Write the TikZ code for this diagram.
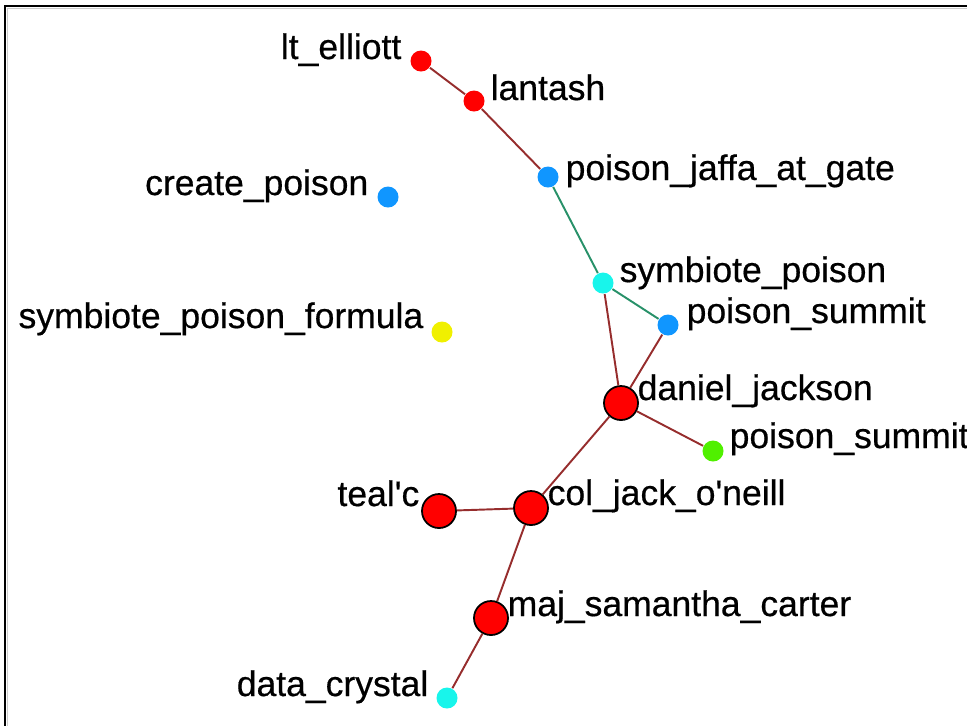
\documentclass[tikz,border=0pt]{standalone}
\usepackage{fontspec}
\setmainfont[FakeBold=0.5]{Liberation Sans}
\usetikzlibrary{positioning}
\definecolor{orared}{RGB}{255,0,0}
\definecolor{orablue}{RGB}{16,150,255}
\definecolor{oracyan}{RGB}{24,245,235}
\definecolor{orayellow}{RGB}{240,240,0}
\definecolor{oragreen}{RGB}{80,240,0}
\definecolor{oratie}{RGB}{150,45,45}
\definecolor{oralink}{RGB}{40,145,105}

\begin{document}
\begin{tikzpicture}[x=0.01cm,y=-0.01cm,font=\fontsize{10.1}{12}\selectfont,
    agent/.style={circle,draw=black,line width=0.5pt,fill=orared,minimum size=0.34cm,inner sep=0pt},
    dot/.style={circle,fill=#1,minimum size=0.21cm,inner sep=0pt},
    tie/.style={oratie,line width=0.55pt},
    link/.style={oralink,line width=0.55pt},
    lbl/.style={inner sep=0pt}]
    \useasboundingbox (0,0) rectangle (967,726);
    % frame
    \draw[black,line width=0.025cm] (4,6) -- (967,6);
    \draw[black,line width=0.025cm] (5,5) -- (5,726);
    \draw[gray!40,line width=0.01cm] (7,8) -- (967,8);
    \draw[gray!40,line width=0.01cm] (7,8) -- (7,726);
    % small nodes
    \foreach \n/\x/\y/\c in {ltelliott/421/61/orared, lantash/474/101/orared,
        jaffa/548/177/orablue, create/388/197/orablue, symbiote/603/283/oracyan,
        formula/442/332/orayellow, summitA/668/325/orablue, summitB/713/451/oragreen,
        crystal/447/698/oracyan}{
        \node[dot=\c] (\n) at (\x,\y) {};
    }
    % agents
    \foreach \n/\x/\y in {daniel/621/403, tealc/439/511, coljack/531/508, carter/491/618}{
        \node[agent] (\n) at (\x,\y) {};
    }
    % labels
    \foreach \n/\x/\y/\t in {lantash/490/100/lantash, jaffa/565/180/poison\_jaffa\_at\_gate,
        symbiote/619/282/symbiote\_poison, summitA/686/323/poison\_summit,
        daniel/637/400/daniel\_jackson, summitB/729/448/poison\_summit,
        coljack/547/505/col\_jack\_o\textquotesingle neill, carter/507/616/maj\_samantha\_carter}{
        \node[lbl,anchor=base west] (lbl-\n) at (\x,\y) {\t};
    }
    \foreach \n/\x/\y/\t in {ltelliott/402/59/lt\_elliott, create/369/195/create\_poison,
        formula/424/328/symbiote\_poison\_formula, tealc/420/506/teal\textquotesingle c,
        crystal/429/696/data\_crystal}{
        \node[lbl,anchor=base east] (lbl-\n) at (\x,\y) {\t};
    }
    % ties
    \draw[tie] (ltelliott) -- (lantash);
    \draw[tie] (lantash) -- (jaffa);
    \draw[link] (jaffa) -- (symbiote);
    \draw[link] (symbiote) -- (summitA);
    \draw[tie] (symbiote) -- (daniel);
    \draw[tie] (summitA) -- (daniel);
    \draw[tie] (daniel) -- (summitB);
    \draw[tie] (daniel) -- (coljack);
    \draw[tie] (tealc) -- (coljack);
    \draw[tie] (coljack) -- (carter);
    \draw[tie] (carter) -- (crystal);
\end{tikzpicture}
\end{document}
